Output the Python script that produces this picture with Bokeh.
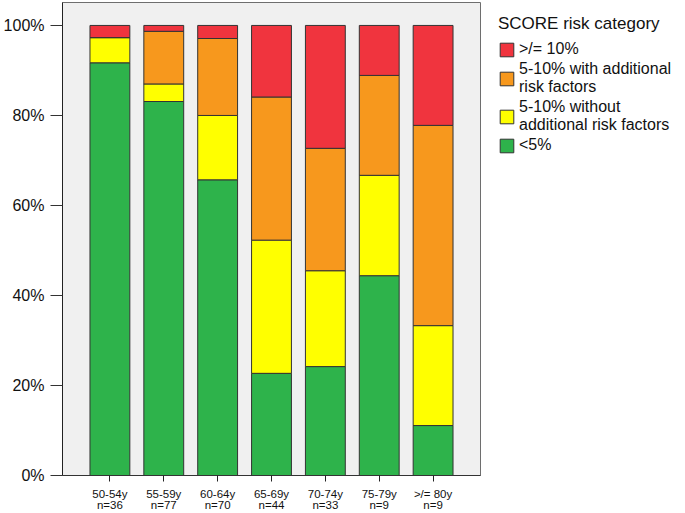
from bokeh.plotting import figure
from bokeh.models import (FactorRange, Range1d, FixedTicker, PrintfTickFormatter,
                          Legend, LegendItem, ColumnDataSource)
from bokeh.embed import file_html
from bokeh.resources import INLINE

# ---- data ----
age_groups = ["50-54y", "55-59y", "60-64y", "65-69y", "70-74y", "75-79y", ">/= 80y"]
group_n = [36, 77, 70, 44, 33, 9, 9]
pct_low = [91.7, 83.1, 65.7, 22.7, 24.2, 44.4, 11.1]          # <5%
pct_mid_without = [5.6, 3.9, 14.3, 29.6, 21.3, 22.3, 22.2]    # 5-10% without additional risk factors
pct_mid_with = [0.0, 11.7, 17.1, 31.8, 27.2, 22.2, 44.5]      # 5-10% with additional risk factors
pct_high = [2.7, 1.3, 2.9, 15.9, 27.3, 11.1, 22.2]            # >/= 10%

series_keys = ["low", "mid_without", "mid_with", "high"]
series_labels = ["<5%", "5-10% without\nadditional risk factors",
                 "5-10% with additional\nrisk factors", ">/= 10%"]
series_colors = ["#2eb34b", "#ffff00", "#f7981d", "#f0343e"]
y_ticks = [0, 20, 40, 60, 80, 100]

FONT = "Liberation Sans"

x_labels = [f"{g}\nn={n}" for g, n in zip(age_groups, group_n)]
src = ColumnDataSource(dict(x=x_labels, low=pct_low, mid_without=pct_mid_without,
                            mid_with=pct_mid_with, high=pct_high))

p = figure(x_range=FactorRange(*x_labels, range_padding=0.38, range_padding_units="absolute"),
           y_range=Range1d(0, 105.1),
           frame_width=418, frame_height=473,
           output_backend="svg", toolbar_location=None,
           min_border_left=0, min_border_right=203, min_border_top=2, min_border_bottom=0)

renderers = p.vbar_stack(series_keys, x="x", width=0.74, source=src,
                         fill_color=series_colors, line_color="#333333", line_width=1)

p.background_fill_color = "#f0f0f0"
p.border_fill_color = "white"
p.outline_line_color = "#6e6e6e"
p.xgrid.visible = False
p.ygrid.visible = False

ya = p.yaxis[0]
ya.ticker = FixedTicker(ticks=y_ticks)
ya.formatter = PrintfTickFormatter(format="%d%%")
ya.major_label_text_font = FONT
ya.major_label_text_font_size = "16px"
ya.major_label_text_color = "#111111"
ya.major_tick_out = 12
ya.major_tick_in = 0
ya.minor_tick_out = 0
ya.minor_tick_in = 0
ya.major_label_standoff = 6
ya.axis_line_color = "#222222"
ya.major_tick_line_color = "#333333"

xa = p.xaxis[0]
xa.major_label_text_font = FONT
xa.major_label_text_font_size = "11.5px"
xa.major_label_text_color = "#111111"
xa.major_label_text_line_height = 0.95
xa.major_tick_out = 6
xa.major_tick_in = 0
xa.major_label_standoff = 6
xa.axis_line_color = "#333333"
xa.major_tick_line_color = "#222222"

items = [LegendItem(label=lab, renderers=[r]) for lab, r in zip(series_labels, renderers)][::-1]
legend = Legend(items=items, location=(18, 321), margin=0, padding=0, spacing=2,
                glyph_width=17, glyph_height=17, label_standoff=4,
                title="SCORE risk category", title_text_font=FONT, title_text_font_size="17px",
                title_text_font_style="normal", title_text_color="#111111", title_standoff=6,
                label_text_font=FONT, label_text_font_size="16px", label_text_color="#111111",
                label_text_line_height=0.95,
                border_line_color=None, background_fill_alpha=0)
p.add_layout(legend, "right")

open("out.html", "w").write(file_html(p, INLINE))
